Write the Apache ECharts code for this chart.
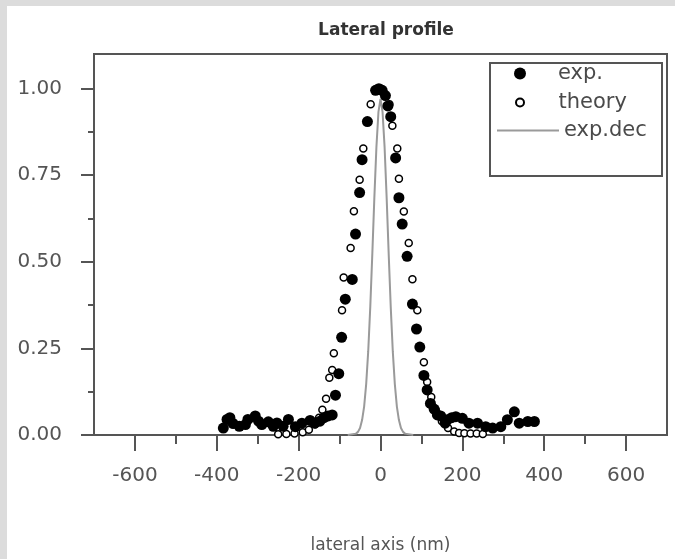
<!DOCTYPE html>
<html>
<head>
<meta charset="utf-8">
<script src="https://cdn.jsdelivr.net/npm/echarts@6/dist/echarts.min.js"></script>
<style>html,body{margin:0;padding:0;background:#dcdcdc;overflow:hidden;}#c{width:675px;height:559px;}</style>
</head>
<body>
<div id="c"></div>
<script>
// measured data (nm, normalized intensity)
const expX = [-384,-375,-368,-360,-345,-330,-324,-306,-298,-290,-274,-262,-253,-238,-225,-208,-192,-172,-160,-148,-138,-128,-118,-110,-102,-95,-86,-69,-61,-51,-45,-32,-12,-4,4,12,18,25,37,45,53,65,78,88,96,106,114,122,131,139,147,158,163,174,184,200,216,237,257,274,294,310,327,339,360,376];
const expY = [0.02,0.045,0.05,0.033,0.025,0.03,0.045,0.055,0.04,0.03,0.038,0.025,0.035,0.025,0.045,0.024,0.034,0.042,0.035,0.04,0.05,0.055,0.058,0.115,0.177,0.282,0.392,0.449,0.58,0.70,0.795,0.905,0.995,1.0,0.995,0.98,0.95,0.919,0.80,0.685,0.609,0.516,0.378,0.306,0.254,0.172,0.13,0.091,0.075,0.058,0.055,0.034,0.044,0.05,0.053,0.048,0.034,0.034,0.024,0.02,0.024,0.044,0.067,0.034,0.039,0.039];

const theoryX = [-250,-230,-210,-190,-175,-160,-150,-142,-133,-125,-118,-114,-94,-90,-73,-65,-51,-42,-24,0,22,29,41,45,57,69,78,90,106,114,124,135,150,165,180,192,205,220,235,250];
const theoryY = [0.002,0.003,0.004,0.008,0.015,0.03,0.05,0.073,0.105,0.165,0.188,0.236,0.36,0.455,0.54,0.646,0.737,0.827,0.955,1.0,0.955,0.893,0.827,0.74,0.645,0.554,0.45,0.36,0.21,0.153,0.11,0.072,0.04,0.02,0.01,0.006,0.005,0.004,0.004,0.003];

const decX = [-80,-60,-55,-50,-45,-40,-35,-30,-25,-20,-15,-10,-5,0,5,10,15,20,25,30,35,40,45,50,55,60,80];
const decY = [0,0.004,0.009,0.02,0.043,0.082,0.147,0.242,0.37,0.523,0.686,0.831,0.933,0.97,0.933,0.831,0.686,0.523,0.37,0.242,0.147,0.082,0.043,0.02,0.009,0.004,0];

const xMajorTicks = [-600,-400,-200,0,200,400,600];
const xMinorTicks = [-500,-300,-100,100,300,500];
const yMajorTicks = [0,0.25,0.5,0.75,1.0];
const yMinorTicks = [0.125,0.375,0.625,0.875];
const seriesNames = ['exp.','theory','exp.dec'];

const pairs = (xs, ys) => xs.map((x, i) => [x, ys[i]]);
const FONT = 'DejaVu Sans';
const AX = '#555';

const chart = echarts.init(document.getElementById('c'));
chart.setOption({
  backgroundColor: '#dcdcdc',
  animation: false,
  graphic: [
    { type: 'rect', z: -10, shape: { x: 7, y: 6, width: 668, height: 553 }, style: { fill: '#ffffff' } },
    { type: 'rect', z: 10, shape: { x: 490, y: 63, width: 172, height: 113 }, style: { fill: 'none', stroke: AX, lineWidth: 2 } }
  ],
  title: {
    text: 'Lateral profile',
    left: 381, top: 17, textAlign: 'center',
    textStyle: { fontFamily: FONT, fontSize: 17, fontWeight: 'bold', color: '#333' }
  },
  legend: [
    { data: [{ name: seriesNames[0], icon: 'circle' }], left: 514, top: 63, padding: 0, itemWidth: 66, itemHeight: 12,
      textStyle: { fontFamily: FONT, fontSize: 21, color: '#4a4a4a' } },
    { data: [{ name: seriesNames[1], icon: 'circle' }], left: 515, top: 92, padding: 0, itemWidth: 67, itemHeight: 8,
      textStyle: { fontFamily: FONT, fontSize: 21, color: '#4a4a4a' } },
    { data: [{ name: seriesNames[2], icon: 'rect' }], left: 497, top: 120, padding: 0, itemWidth: 62, itemHeight: 2,
      textStyle: { fontFamily: FONT, fontSize: 21, color: '#4a4a4a' } }
  ],
  grid: { left: 94, width: 573, top: 54, height: 387.5, show: true, borderColor: AX, borderWidth: 2, backgroundColor: 'transparent' },
  xAxis: [
    {
      type: 'value', min: -700, max: 700, interval: 100,
      name: 'lateral axis (nm)', nameLocation: 'middle', nameGap: 102,
      nameTextStyle: { fontFamily: FONT, fontSize: 17, color: '#555' },
      axisLine: { show: true, onZero: false, lineStyle: { color: AX, width: 2 } },
      axisTick: { show: true, length: 16, customValues: xMajorTicks, lineStyle: { color: AX, width: 2 } },
      axisLabel: { customValues: xMajorTicks, margin: 31, fontFamily: FONT, fontSize: 20, color: '#555' },
      splitLine: { show: false }
    },
    {
      type: 'value', min: -700, max: 700, interval: 100, position: 'bottom',
      axisLine: { show: false, onZero: false },
      axisTick: { show: true, length: 9, customValues: xMinorTicks, lineStyle: { color: AX, width: 2 } },
      axisLabel: { show: false },
      splitLine: { show: false }
    }
  ],
  yAxis: [
    {
      type: 'value', min: 0, max: 1.1, interval: 0.25,
      axisLine: { show: true, onZero: false, lineStyle: { color: AX, width: 2 } },
      axisTick: { show: true, length: 13, customValues: yMajorTicks, lineStyle: { color: AX, width: 2 } },
      axisLabel: { customValues: yMajorTicks, margin: 32, fontFamily: FONT, fontSize: 20, color: '#555', formatter: v => v.toFixed(2) },
      splitLine: { show: false }
    },
    {
      type: 'value', min: 0, max: 1.1, interval: 0.25, position: 'left',
      axisLine: { show: false, onZero: false },
      axisTick: { show: true, length: 6, customValues: yMinorTicks, lineStyle: { color: AX, width: 2 } },
      axisLabel: { show: false },
      splitLine: { show: false }
    }
  ],
  series: [
    {
      name: seriesNames[2], type: 'line', data: pairs(decX, decY), symbol: 'none', z: 2,
      lineStyle: { color: '#9a9a9a', width: 2 }, itemStyle: { color: '#9a9a9a' }
    },
    {
      name: seriesNames[1], type: 'scatter', data: pairs(theoryX, theoryY), symbol: 'circle', symbolSize: 7, z: 3,
      itemStyle: { color: '#ffffff', borderColor: '#000', borderWidth: 1.5, opacity: 1 }
    },
    {
      name: seriesNames[0], type: 'scatter', data: pairs(expX, expY), symbol: 'circle', symbolSize: 11, z: 4,
      itemStyle: { color: '#000', opacity: 1 }
    }
  ]
});
</script>
</body>
</html>
